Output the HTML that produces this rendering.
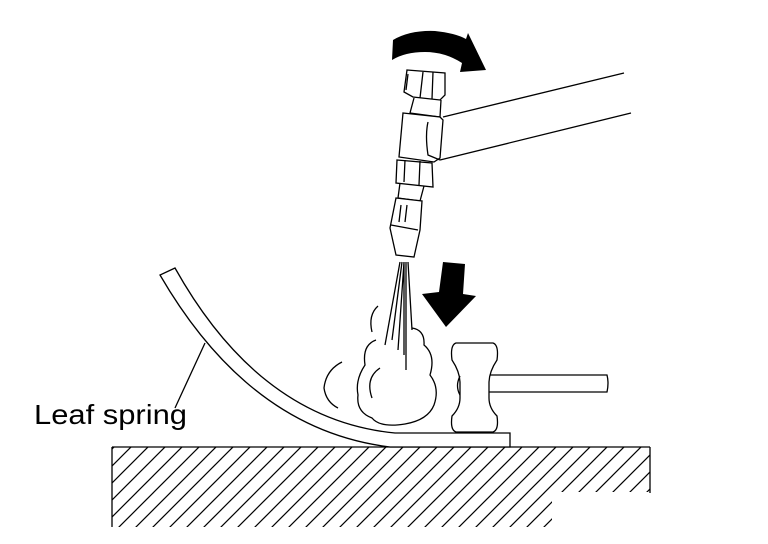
<!DOCTYPE html>
<html><head><meta charset="utf-8"><style>html,body{margin:0;padding:0;background:#fff}svg{display:block}</style></head>
<body>
<svg width="768" height="544" viewBox="0 0 768 544" xmlns="http://www.w3.org/2000/svg">
<defs>
<pattern id="h" patternUnits="userSpaceOnUse" width="17" height="17">
<line x1="0" y1="17" x2="17" y2="0" stroke="#000" stroke-width="1.2"/>
<line x1="-2" y1="2" x2="2" y2="-2" stroke="#000" stroke-width="1.2"/>
<line x1="15" y1="19" x2="19" y2="15" stroke="#000" stroke-width="1.2"/>
</pattern>
</defs>
<g fill="none" stroke="#000" stroke-width="1.3">
<rect x="112" y="447" width="538" height="80" fill="url(#h)" stroke="none"/>
<rect x="552" y="492" width="100" height="40" fill="#fff" stroke="none"/>
<line x1="112" y1="447" x2="650" y2="447"/>
<line x1="112" y1="447" x2="112" y2="527"/>
<line x1="650" y1="447" x2="650" y2="493"/>
<path d="M160,275 Q250,430 390,447 L510,447 L510,433 L395,433 Q260,420 175,268 Z" fill="#fff"/>
<line x1="175" y1="408" x2="205" y2="343"/>
<path d="M487,375 H607 Q609,383 607,392 H487 Z" fill="#fff"/>
<path d="M456,343 H493 Q499,345 497,360 Q489,372 489,383 V398 Q489,408 497,416 Q499,430 493,432 H456 Q450,430 452,416 Q460,408 460,398 V383 Q460,372 452,360 Q450,345 456,343 Z" fill="#fff"/>
<path d="M460,376 Q455,386 460,395"/>
<!-- cloud -->
<path d="M376,340 Q362,345 365,365 Q355,380 358,395 Q356,412 372,418 Q380,428 405,424 Q428,420 434,405 Q440,388 430,375 Q436,355 424,345 Q425,330 412,328"/>
<path d="M342,362 Q326,370 324,388 Q326,402 338,408"/>
<path d="M378,306 Q368,315 372,332"/>
<path d="M380,368 Q365,378 372,398"/>
<path d="M400,262 L385,345 M402,262 L392,340 M404,262 L398,350 M406,262 L406,370 M408,262 L412,330 M404,262 L404,355"/>
<!-- tool -->
<path d="M407,70 L445,73 L445,95 L440,100 L413,97 L404,92 Z" fill="#fff"/>
<path d="M408,74 L406,90 M423,72 L420,98 M433,72 L432,99"/>
<path d="M414,98 L410,113 L440,117 L441,100"/>
<path d="M403,113 L440,117 L443,120 L440,158 L434,162 L399,157 Z" fill="#fff"/>
<path d="M443,117 L624,73 M440,160 L631,113"/>
<path d="M428,122 Q425,135 428,155 L440,160"/>
<path d="M397,160 L432,163 L433,187 L396,183 Z" fill="#fff"/>
<path d="M405,160 L404,182 M420,161 L419,185"/>
<path d="M400,183 L398,198 L420,201 L424,186"/>
<path d="M396,198 L422,201 L420,230 L414,257 L396,255 L390,228 Z" fill="#fff"/>
<path d="M391,225 L418,230 M401,205 L399,222 M407,205 L405,222"/>
<!-- rotate arrow -->
<path d="M392,60 L393,40 Q410,30 435,31 Q455,33 466,39 L468,33 L486,70 L460,72 L462,63 Q445,52 425,52 Q405,52 392,60 Z" fill="#000" stroke="none"/>
<path d="M443,262 L465,264 L463,294 L476,296 L446,327 L422,294 L439,292 Z" fill="#000" stroke="none"/>
</g>
<text x="34" y="424" font-family="Liberation Sans, sans-serif" font-size="28" textLength="153" lengthAdjust="spacingAndGlyphs">Leaf spring</text>
</svg>
</body></html>
